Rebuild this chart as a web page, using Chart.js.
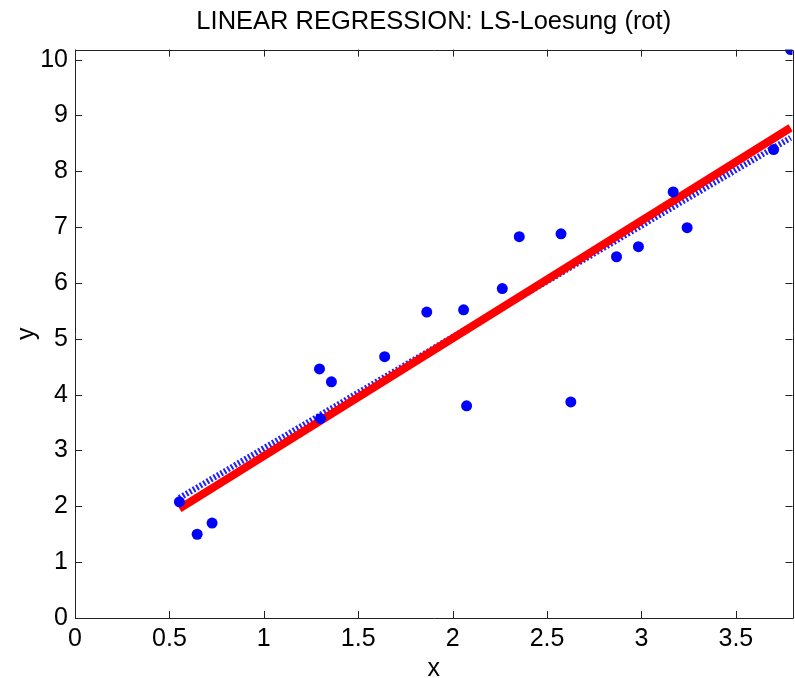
<!DOCTYPE html>
<html>
<head>
<meta charset="utf-8">
<script src="https://cdn.jsdelivr.net/npm/chart.js@4"></script>
<style>
  html, body { margin: 0; padding: 0; background: #fff; }
  .wrap { width: 795px; height: 678px; overflow: hidden; }
</style>
</head>
<body>
<div class="wrap">
  <canvas id="regChart" width="798" height="678"></canvas>
</div>
<script>
// measured points
const xData = [0.553, 0.647, 0.726, 1.295, 1.358, 1.30, 1.64, 1.863, 2.058, 2.074,
               2.263, 2.353, 2.574, 2.626, 2.868, 2.984, 3.168, 3.242, 3.70, 3.79];
const yData = [2.08, 1.50, 1.70, 4.46, 4.23, 3.57, 4.68, 5.48, 5.52, 3.80,
               5.90, 6.83, 6.88, 3.87, 6.47, 6.65, 7.63, 6.99, 8.39, 10.18];

// fitted lines, evaluated at the ends of the data range
const fitX = [0.553, 3.79];
const lsY = [1.96, 8.78];    // LS solution (red)
const altY = [2.15, 8.60];   // other fit (blue dotted)

const xTicks = [0, 0.5, 1, 1.5, 2, 2.5, 3, 3.5];
const yTicks = [0, 1, 2, 3, 4, 5, 6, 7, 8, 9, 10];

const toPts = (xs, ys) => xs.map((x, i) => ({ x: x, y: ys[i] }));

const FONT = "'Liberation Sans', Arial, Helvetica, sans-serif";
const AXIS_COLOR = "#222";

// matlab style box with inward ticks on all four sides
const boxPlugin = {
  id: "matlabBox",
  afterDraw(chart) {
    const { ctx, chartArea: a, scales } = chart;
    const len = 7;
    ctx.save();
    ctx.strokeStyle = AXIS_COLOR;
    ctx.lineWidth = 1;
    ctx.beginPath();
    ctx.rect(Math.round(a.left) + 0.5, Math.round(a.top) + 0.5,
             Math.round(a.right - a.left), Math.round(a.bottom - a.top));
    xTicks.forEach(v => {
      const px = Math.round(scales.x.getPixelForValue(v)) + 0.5;
      ctx.moveTo(px, a.bottom); ctx.lineTo(px, a.bottom - len);
      ctx.moveTo(px, a.top); ctx.lineTo(px, a.top + len);
    });
    yTicks.forEach(v => {
      const py = Math.round(scales.y.getPixelForValue(v)) + 0.5;
      ctx.moveTo(a.left, py); ctx.lineTo(a.left + len, py);
      ctx.moveTo(a.right, py); ctx.lineTo(a.right - len, py);
    });
    ctx.stroke();
    ctx.restore();
  }
};

new Chart(document.getElementById("regChart"), {
  type: "scatter",
  data: {
    datasets: [
      {
        label: "Daten",
        data: toPts(xData, yData),
        backgroundColor: "#0000ff",
        borderColor: "#0000ff",
        pointRadius: 5.5,
        pointBorderWidth: 0,
      },
      {
        label: "LS-Loesung",
        data: toPts(fitX, lsY),
        showLine: true,
        borderColor: "#ff0000",
        borderWidth: 8,
        pointRadius: 0,
      },
      {
        label: "Alternative",
        data: toPts(fitX, altY),
        showLine: true,
        borderColor: "#1f1fff",
        borderWidth: 6,
        borderDash: [2, 2],
        borderCapStyle: "butt",
        pointRadius: 0,
      },
    ],
  },
  options: {
    responsive: false,
    animation: false,
    layout: { padding: { left: 0, right: 0, top: 0, bottom: 0 } },
    plugins: {
      legend: { display: false },
      tooltip: { enabled: false },
      title: {
        display: true,
        text: "LINEAR REGRESSION: LS-Loesung (rot)",
        color: "#000",
        fullSize: false,
        font: { family: FONT, size: 25.5, weight: "normal" },
        padding: { top: 7, bottom: 12 },
      },
    },
    scales: {
      x: {
        type: "linear",
        min: 0,
        max: 3.8,
        afterFit: s => { s.height = 60; },
        afterBuildTicks: s => { s.ticks = xTicks.map(v => ({ value: v })); },
        grid: { display: false, drawTicks: false },
        border: { display: false },
        ticks: {
          color: "#000",
          padding: 6,
          maxRotation: 0,
          font: { family: FONT, size: 25 },
          callback: v => String(v),
        },
        title: {
          display: true,
          text: "x",
          color: "#000",
          padding: 0,
          font: { family: FONT, size: 25, lineHeight: 0.75 },
        },
      },
      y: {
        type: "linear",
        min: 0,
        max: 10.18,
        afterFit: s => { s.width = 75; },
        afterBuildTicks: s => { s.ticks = yTicks.map(v => ({ value: v })); },
        grid: { display: false, drawTicks: false },
        border: { display: false },
        ticks: {
          color: "#000",
          padding: 7,
          font: { family: FONT, size: 25 },
          callback: v => String(v),
        },
        title: {
          display: true,
          text: "y",
          color: "#000",
          padding: { top: 12, bottom: 0 },
          font: { family: FONT, size: 25 },
        },
      },
    },
  },
  plugins: [boxPlugin],
});
</script>
</body>
</html>
